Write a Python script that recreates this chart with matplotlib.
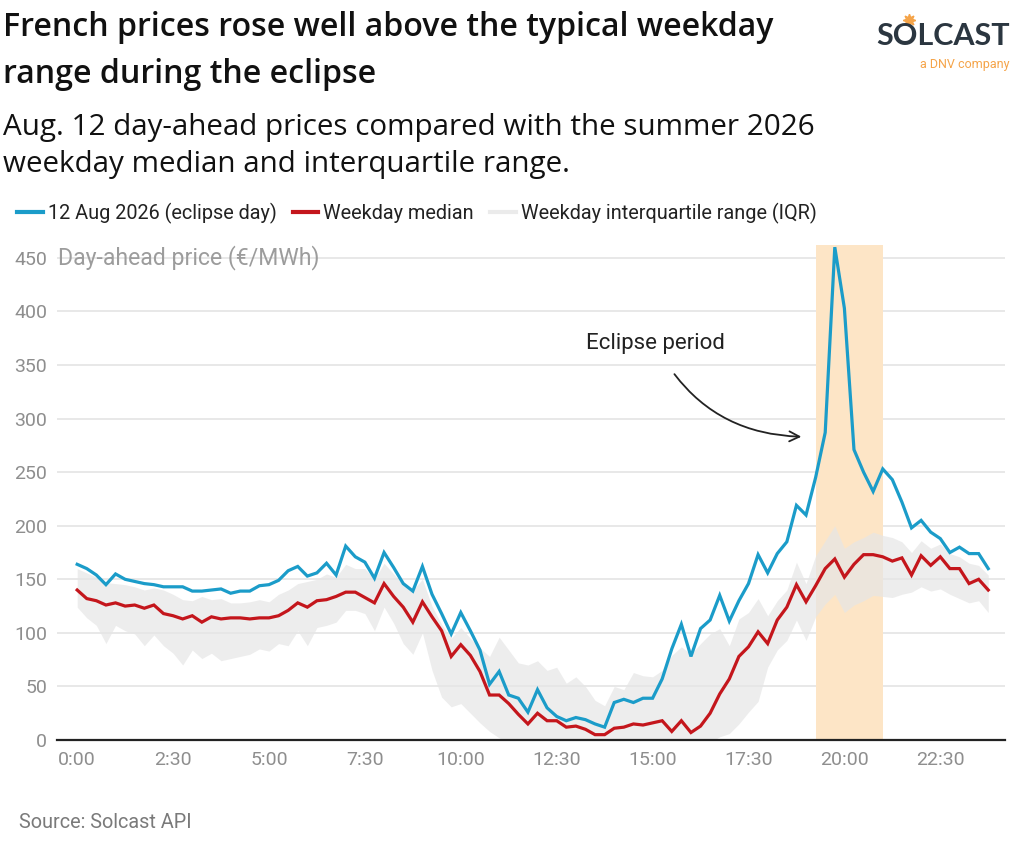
import matplotlib
matplotlib.use("Agg")
import matplotlib.pyplot as plt
from matplotlib.lines import Line2D
import numpy as np

plt.rcParams['font.family'] = ['Roboto', 'DejaVu Sans']

# ---- data (15-minute day-ahead prices, EUR/MWh) ----
eclipse_day = [164, 160, 154, 145, 155, 150, 148, 146, 145, 143, 143, 143, 139, 139, 140, 141,
               137, 139, 139, 144, 145, 149, 158, 162, 153, 156, 165, 154, 181, 171, 166, 151,
               175, 161, 146, 139, 162, 136, 118, 99, 119, 102, 84, 52, 64, 42, 39, 26,
               47, 30, 22, 18, 21, 19, 15, 12, 35, 38, 35, 39, 39, 57, 85, 108,
               78, 104, 112, 135, 111, 130, 146, 173, 156, 174, 185, 219, 210, 245, 287, 460,
               403, 271, 250, 232, 253, 243, 222, 198, 205, 194, 188, 175, 180, 174, 174, 160]
weekday_median = [140, 132, 130, 126, 128, 125, 126, 123, 126, 118, 116, 113, 116, 110, 115, 113,
                  114, 114, 113, 114, 114, 116, 121, 128, 124, 130, 131, 134, 138, 138, 133, 128,
                  146, 134, 124, 110, 129, 115, 102, 78, 89, 79, 64, 42, 42, 34, 24, 15,
                  25, 18, 18, 12, 13, 10, 5, 5, 11, 12, 15, 14, 16, 18, 8, 18,
                  7, 13, 25, 43, 57, 78, 87, 101, 90, 112, 124, 145, 129, 144, 160, 169,
                  152, 164, 173, 173, 171, 167, 170, 154, 172, 163, 171, 160, 160, 146, 150, 140]
iqr_upper = [160, 156, 152, 147, 146, 145, 143, 140, 142, 140, 136, 131, 130, 134, 131, 132,
             128, 128, 129, 131, 129, 136, 140, 146, 148, 150, 155, 152, 164, 160, 160, 150,
             165, 155, 145, 140, 150, 125, 108, 95, 105, 95, 86, 78, 96, 84, 72, 70,
             74, 65, 68, 53, 59, 50, 37, 32, 50, 47, 63, 60, 59, 65, 79, 87,
             80, 90, 99, 104, 88, 113, 119, 132, 116, 130, 140, 166, 146, 172, 186, 200,
             179, 185, 189, 194, 191, 189, 185, 175, 186, 179, 183, 174, 171, 165, 163, 154]
iqr_lower = [124, 114, 107, 90, 107, 102, 99, 88, 98, 88, 81, 70, 84, 76, 81, 74,
             76, 78, 80, 85, 83, 90, 88, 102, 88, 105, 107, 110, 121, 121, 118, 102,
             124, 109, 90, 80, 100, 65, 40, 31, 34, 25, 16, 8, 2, -3, -6, -8,
             -10, -8, -9, -12, -10, -12, -15, -14, -12, -10, -11, -9, -8, -10, -12, -9,
             -6, -4, -2, 3, 6, 15, 26, 36, 68, 84, 93, 112, 93, 115, 127, 136,
             119, 126, 130, 135, 134, 133, 136, 138, 143, 139, 141, 136, 132, 128, 130, 119]
tick_labels = ["0:00", "2:30", "5:00", "7:30", "10:00", "12:30", "15:00", "17:30", "20:00", "22:30"]
eclipse_start, eclipse_end = 77, 84   # 19:15 - 21:00 (interval index)

x = np.arange(len(eclipse_day))

BLUE = "#1B9CC9"
RED = "#C4161C"
BAND = "#E6E6E6"
SPAN = "#FDE5C6"
GREY = "#8E8E8E"

fig = plt.figure(figsize=(10.24, 8.44), dpi=100)
ax = fig.add_axes([0.0557, 0.1232, 0.9253, 0.5865])

ax.axvspan(eclipse_start, eclipse_end, color=SPAN, zorder=1, lw=0)
ax.fill_between(x, iqr_lower, iqr_upper, color=BAND, alpha=0.7, lw=0, zorder=2)
ax.plot(x, weekday_median, color=RED, lw=2.3, zorder=4, solid_joinstyle='miter')
ax.plot(x, eclipse_day, color=BLUE, lw=2.3, zorder=5, solid_joinstyle='miter')

ax.set_xlim(-2.1, 96.7)
ax.set_ylim(0, 462)
ax.set_yticks(range(0, 451, 50))
ax.set_xticks(range(0, 91, 10))
ax.set_xticklabels(tick_labels)
ax.tick_params(axis='both', length=0, labelsize=14, labelcolor=GREY)
ax.tick_params(axis='y', pad=7)
ax.tick_params(axis='x', pad=8)
ax.grid(axis='y', color='#E2E2E2', lw=1.1, zorder=0)
ax.set_axisbelow(True)
for s in ['top', 'right', 'left']:
    ax.spines[s].set_visible(False)
ax.spines['bottom'].set_color('#222222')
ax.spines['bottom'].set_linewidth(1.6)
ax.spines['bottom'].set_zorder(6)

ax.text(-2.0, 450, "Day-ahead price (€/MWh)", fontsize=16.6, color='#9C9C9C',
        va='center', ha='left', zorder=3)

ax.annotate("Eclipse period", xy=(75.8, 283), xytext=(60.3, 370),
            fontsize=16, color='#222222', ha='center', va='center',
            arrowprops=dict(arrowstyle='->', color='#222222', lw=1.3,
                            connectionstyle='arc3,rad=0.3', shrinkA=15, shrinkB=2,
                            mutation_scale=18))

# titles
fig.text(0.003, 0.940, "French prices rose well above the typical weekday\nrange during the eclipse",
         fontsize=23.1, fontweight=600, color='#111111', va='center', ha='left', linespacing=1.55,
         family=['Open Sans', 'DejaVu Sans'])
fig.text(0.003, 0.8275, "Aug. 12 day-ahead prices compared with the summer 2026\nweekday median and interquartile range.",
         fontsize=21.3, color='#111111', va='center', ha='left', linespacing=1.37,
         family=['Open Sans', 'DejaVu Sans'])

# legend
handles = [Line2D([], [], color=BLUE, lw=3),
           Line2D([], [], color=RED, lw=3),
           Line2D([], [], color='#EBEBEB', lw=3)]
labels = ["12 Aug 2026 (eclipse day)", "Weekday median", "Weekday interquartile range (IQR)"]
fig.legend(handles, labels, loc='center left', bbox_to_anchor=(0.0166, 0.7476), ncol=3,
           frameon=False, fontsize=14.3, handlelength=1.3, handletextpad=0.25,
           columnspacing=0.8, borderaxespad=0, borderpad=0, labelcolor='#222222')

# source
fig.text(0.019, 0.025, "Source: Solcast API", fontsize=14.3, color='#7A7A7A', ha='left', va='center')

# logo
fig.text(0.986, 0.957, "SOLCAST", fontsize=22, fontweight='bold', color='#2B3640',
         ha='right', va='center', family=['Lato', 'DejaVu Sans'])
fig.text(0.986, 0.924, "a DNV company", fontsize=9, color='#F5A449', ha='right', va='center')
fig.add_artist(Line2D([0.888], [0.976], marker=(8, 1, 0), ms=9, color='#F5A449',
                      transform=fig.transFigure))

fig.savefig("out.png", dpi=100)
